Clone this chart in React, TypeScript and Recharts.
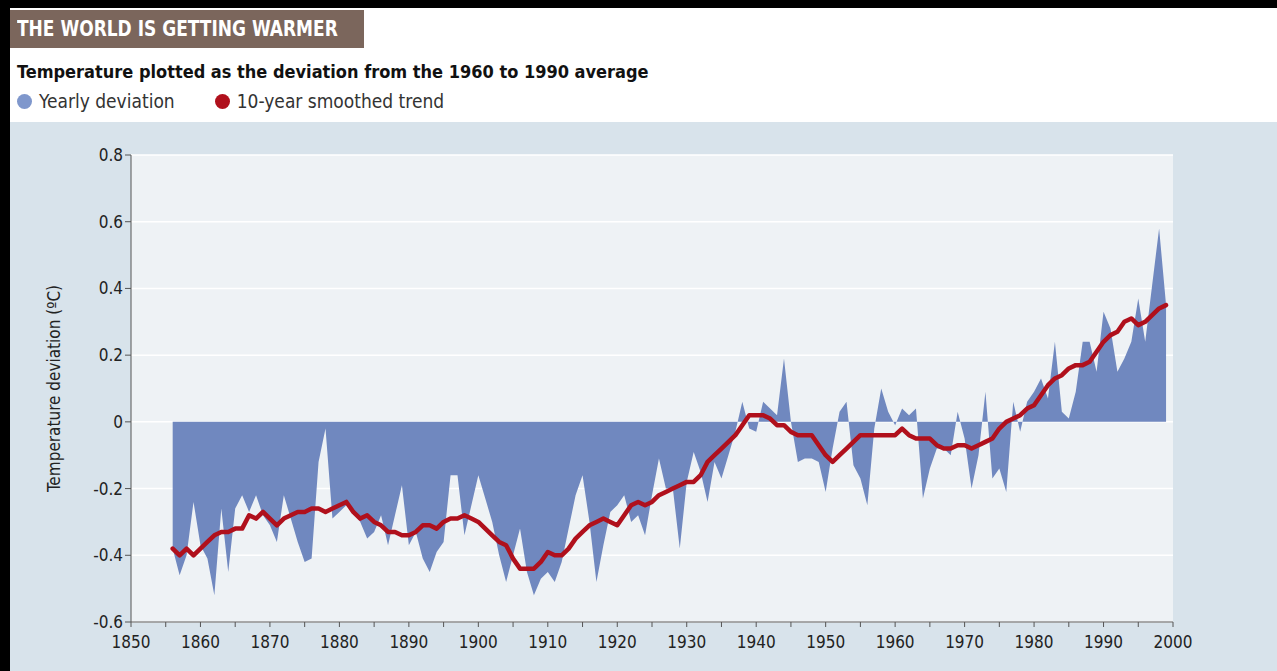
import { Area, CartesianGrid, ComposedChart, Label, Line, XAxis, YAxis } from "recharts"

// years 1856-1999
const startYear = 1856

// yearly deviation from the 1960-1990 average (ºC)
const yearly = [
  -0.38, -0.46, -0.4, -0.24, -0.37, -0.41, -0.52, -0.26, -0.45, -0.26, // 1856-1865
  -0.22, -0.27, -0.22, -0.28, -0.31, -0.36, -0.22, -0.29, -0.36, -0.42, // 1866-1875
  -0.41, -0.12, -0.02, -0.29, -0.27, -0.25, -0.27, -0.3, -0.35, -0.33, // 1876-1885
  -0.28, -0.37, -0.28, -0.19, -0.37, -0.33, -0.41, -0.45, -0.39, -0.36, // 1886-1895
  -0.16, -0.16, -0.34, -0.25, -0.16, -0.23, -0.3, -0.4, -0.48, -0.4, // 1896-1905
  -0.32, -0.45, -0.52, -0.47, -0.45, -0.48, -0.42, -0.32, -0.22, -0.16, // 1906-1915
  -0.3, -0.48, -0.37, -0.27, -0.25, -0.22, -0.3, -0.28, -0.34, -0.22, // 1916-1925
  -0.11, -0.2, -0.2, -0.38, -0.18, -0.09, -0.15, -0.24, -0.12, -0.17, // 1926-1935
  -0.1, -0.03, 0.06, -0.02, -0.03, 0.06, 0.04, 0.02, 0.19, 0.0, // 1936-1945
  -0.12, -0.11, -0.11, -0.12, -0.21, -0.08, 0.03, 0.06, -0.13, -0.17, // 1946-1955
  -0.25, -0.02, 0.1, 0.03, -0.01, 0.04, 0.02, 0.04, -0.23, -0.14, // 1956-1965
  -0.08, -0.08, -0.1, 0.03, -0.05, -0.2, -0.1, 0.09, -0.17, -0.14, // 1966-1975
  -0.21, 0.06, -0.03, 0.06, 0.09, 0.13, 0.07, 0.24, 0.03, 0.01, // 1976-1985
  0.09, 0.24, 0.24, 0.15, 0.33, 0.28, 0.15, 0.19, 0.24, 0.37, // 1986-1995
  0.24, 0.41, 0.58, 0.35, // 1996-1999
]

// 10-year smoothed trend
const smoothed = [
  -0.38, -0.4, -0.38, -0.4, -0.38, -0.36, -0.34, -0.33, -0.33, -0.32,
  -0.32, -0.28, -0.29, -0.27, -0.29, -0.31, -0.29, -0.28, -0.27, -0.27,
  -0.26, -0.26, -0.27, -0.26, -0.25, -0.24, -0.27, -0.29, -0.28, -0.3,
  -0.31, -0.33, -0.33, -0.34, -0.34, -0.33, -0.31, -0.31, -0.32, -0.3,
  -0.29, -0.29, -0.28, -0.29, -0.3, -0.32, -0.34, -0.36, -0.37, -0.41,
  -0.44, -0.44, -0.44, -0.42, -0.39, -0.4, -0.4, -0.38, -0.35, -0.33,
  -0.31, -0.3, -0.29, -0.3, -0.31, -0.28, -0.25, -0.24, -0.25, -0.24,
  -0.22, -0.21, -0.2, -0.19, -0.18, -0.18, -0.16, -0.12, -0.1, -0.08,
  -0.06, -0.04, -0.01, 0.02, 0.02, 0.02, 0.01, -0.01, -0.01, -0.03,
  -0.04, -0.04, -0.04, -0.07, -0.1, -0.12, -0.1, -0.08, -0.06, -0.04,
  -0.04, -0.04, -0.04, -0.04, -0.04, -0.02, -0.04, -0.05, -0.05, -0.05,
  -0.07, -0.08, -0.08, -0.07, -0.07, -0.08, -0.07, -0.06, -0.05, -0.02,
  0.0, 0.01, 0.02, 0.04, 0.05, 0.08, 0.11, 0.13, 0.14, 0.16,
  0.17, 0.17, 0.18, 0.21, 0.24, 0.26, 0.27, 0.3, 0.31, 0.29,
  0.3, 0.32, 0.34, 0.35,
]

const yTicks = [-0.6, -0.4, -0.2, 0, 0.2, 0.4, 0.6, 0.8]
const xTicks = Array.from({ length: 31 }, (_, i) => 1850 + i * 5)

const data = yearly.map((v, i) => ({ year: startYear + i, yearly: v, smoothed: smoothed[i] }))

const font = '"DejaVu Sans Condensed", "Open Sans", sans-serif'

export default function App() {
  return (
    <div style={{ position: "absolute", left: 0, top: 0, width: 1277, height: 671, background: "#000", fontFamily: font, overflow: "hidden" }}>
      <div style={{ position: "absolute", left: 10, top: 8, width: 1267, height: 114, background: "#fff" }} />
      <div style={{ position: "absolute", left: 10, top: 10, width: 354, height: 38, background: "#7b665c", overflow: "hidden" }}>
        <span style={{ display: "inline-block", whiteSpace: "nowrap", color: "#fff", fontWeight: 700, fontSize: 22, lineHeight: "38px", marginLeft: 7, transform: "scaleX(0.86)", transformOrigin: "left center" }}>
          THE WORLD IS GETTING WARMER
        </span>
      </div>
      <div style={{ position: "absolute", left: 17, top: 61, fontWeight: 700, fontSize: 18, color: "#111", whiteSpace: "nowrap" }}>
        Temperature plotted as the deviation from the 1960 to 1990 average
      </div>
      <div style={{ position: "absolute", left: 17, top: 90, fontSize: 19, color: "#333", display: "flex", alignItems: "center", whiteSpace: "nowrap" }}>
        <span style={{ width: 15, height: 15, borderRadius: "50%", background: "#7f97cc", display: "inline-block", marginRight: 7 }} />
        <span>Yearly deviation</span>
        <span style={{ width: 15, height: 15, borderRadius: "50%", background: "#b0101c", display: "inline-block", marginLeft: 40, marginRight: 7 }} />
        <span>10-year smoothed trend</span>
      </div>
      <div style={{ position: "absolute", left: 10, top: 122, width: 1267, height: 549, background: "#d8e3eb" }}>
        <ComposedChart width={1267} height={549} data={data} margin={{ top: 33, right: 104, bottom: 19, left: 0 }}>
          <CartesianGrid horizontal vertical={false} stroke="#ffffff" strokeWidth={1.5} fill="#eef2f5" horizontalValues={yTicks} />
          <XAxis
            dataKey="year"
            type="number"
            domain={[1850, 2000]}
            ticks={xTicks}
            interval={0}
            tickFormatter={(v: number) => (v % 10 === 0 ? String(v) : "")}
            stroke="#555"
            tickSize={5}
            height={30}
            tick={{ fill: "#222", fontSize: 17, fontFamily: font, dy: 7 }}
          />
          <YAxis
            type="number"
            domain={[-0.6, 0.8]}
            ticks={yTicks}
            interval={0}
            tickFormatter={(v: number) => (v === 0 ? "0" : v.toFixed(1))}
            stroke="#555"
            tickSize={6}
            width={121}
            tick={{ fill: "#222", fontSize: 17, fontFamily: font }}
          >
            <Label value="Temperature deviation (ºC)" angle={-90} position="insideLeft" offset={44} style={{ fill: "#222", fontSize: 17, fontFamily: font, textAnchor: "middle" }} />
          </YAxis>
          <Area type="linear" dataKey="yearly" baseValue={0} fill="#7088bf" fillOpacity={1} stroke="none" isAnimationActive={false} />
          <Line type="linear" dataKey="smoothed" stroke="#b0101c" strokeWidth={4.5} dot={false} strokeLinejoin="round" strokeLinecap="round" isAnimationActive={false} />
        </ComposedChart>
      </div>
    </div>
  )
}
